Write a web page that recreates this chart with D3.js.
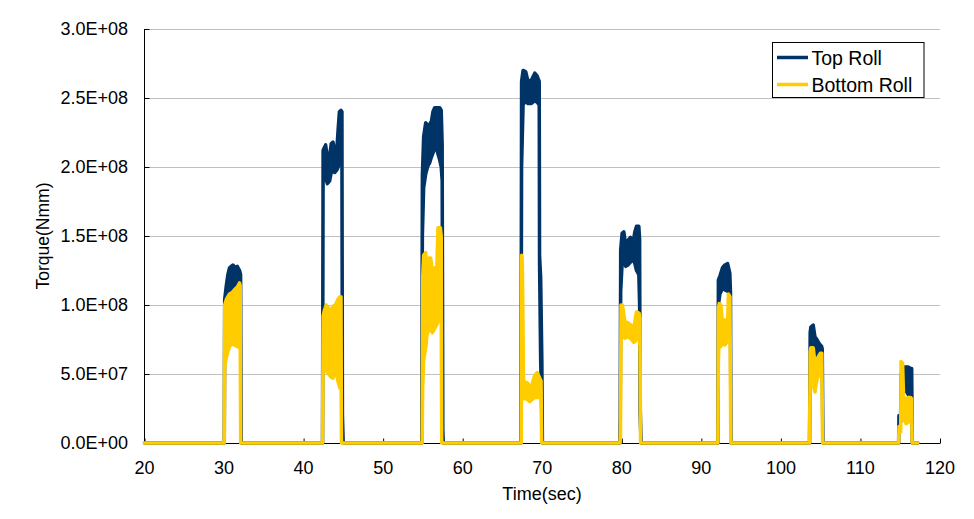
<!DOCTYPE html>
<html>
<head>
<meta charset="utf-8">
<script src="https://cdn.jsdelivr.net/npm/d3@7"></script>
<style>
  body { margin: 0; background: #fff; }
  text { font-family: "Liberation Sans", Arial, sans-serif; fill: #000; }
</style>
</head>
<body>
<div id="chart"></div>
<script>

// ---------- DATA ----------
// rows: [time (sec), low envelope, high envelope], torque in 1e6 Nmm
// (the signal oscillates fast, so each sample keeps its min / max band)

var seriesNames = ['Top Roll', 'Bottom Roll'];

var topRoll = [
	[20, 0, 0],
	[30.03, 0, 0], [30.08, 95, 104], [30.28, 100, 114], [30.48, 105, 122], [30.69, 108, 127],
	[30.9, 110, 128], [31.11, 112, 129], [31.41, 115, 127], [31.66, 115, 128], [31.95, 113, 125],
	[32.08, 110, 122], [32.15, 0, 0],
	[42.38, 0, 0], [42.45, 190, 212], [42.6, 193, 214], [42.77, 192, 216], [42.98, 188, 207],
	[43.27, 190, 208], [43.48, 196, 217], [43.69, 199, 218], [43.9, 196, 212], [44.19, 198, 214],
	[44.35, 200, 228], [44.5, 205, 240], [44.7, 210, 241], [44.82, 200, 240], [44.88, 15, 20],
	[44.98, 0, 0],
	[54.85, 0, 0], [54.93, 150, 194], [55.09, 185, 222], [55.35, 195, 232], [55.64, 201, 230],
	[55.85, 203, 231], [56.06, 207, 233], [56.26, 210, 240], [56.48, 214, 243], [56.77, 212, 243],
	[57.11, 205, 243], [57.3, 200, 241], [57.42, 190, 216], [57.5, 8, 10], [57.56, 0, 0],
	[67.33, 0, 0], [67.4, 200, 262], [67.59, 245, 270], [67.92, 248, 269], [68.21, 246, 262],
	[68.64, 246, 263], [69.06, 248, 268], [69.35, 247, 266], [69.62, 245, 262], [69.66, 130, 136],
	[69.8, 60, 120], [69.95, 20, 60], [70.02, 0, 0],
	[79.76, 0, 0], [79.8, 12, 18], [79.86, 110, 140], [80.04, 130, 152], [80.25, 132, 153],
	[80.5, 128, 143], [80.79, 129, 147], [81.09, 131, 149], [81.35, 134, 143], [81.64, 130, 153],
	[81.85, 125, 157], [82.14, 122, 157], [82.24, 100, 148], [82.3, 22, 30], [82.42, 0, 0],
	[92.08, 0, 0], [92.14, 100, 118], [92.33, 108, 121], [92.66, 112, 127], [92.96, 111, 129],
	[93.3, 110, 130], [93.58, 108, 123], [93.66, 100, 110], [93.72, 0, 0],
	[103.6, 0, 0], [103.68, 65, 80], [103.77, 68, 84], [104.06, 66, 85.5], [104.28, 60, 77],
	[104.57, 61, 74.6], [104.82, 63, 72], [105.12, 65, 70], [105.2, 60, 68], [105.28, 0, 0],
	[114.8, 0, 0], [114.84, 15, 20], [115.05, 15, 20], [115.12, 30, 50], [115.5, 40, 55],
	[115.72, 38, 55], [116.01, 35, 55], [116.31, 32, 54], [116.44, 30, 54], [116.52, 0, 0],
	[117.2, 0, 0]
];

var bottomRoll = [
	[20, 0, 0],
	[30.02, 0, 0], [30.08, 55, 100], [30.28, 62, 104], [30.48, 66, 106], [30.69, 70, 108],
	[31.0, 72, 109], [31.3, 71, 111], [31.66, 70, 113], [31.95, 69, 116], [32.03, 75, 114],
	[32.09, 0, 0],
	[42.38, 0, 0], [42.45, 60, 92], [42.6, 55, 96], [42.85, 52, 100], [43.14, 50, 98],
	[43.4, 48, 95], [43.69, 47, 99], [43.99, 54, 100], [44.31, 45, 104], [44.55, 40, 106],
	[44.7, 60, 106], [44.76, 0, 0],
	[54.9, 0, 0], [54.97, 40, 120], [55.09, 60, 136], [55.35, 69, 138], [55.51, 78, 120],
	[55.76, 83, 134], [55.97, 82, 134], [56.19, 80, 124], [56.48, 83, 127], [56.69, 85, 117],
	[56.89, 88, 156], [57.19, 90, 156], [57.3, 95, 150], [57.36, 0, 0],
	[67.36, 0, 0], [67.42, 100, 136], [67.5, 45, 130], [67.65, 35, 45], [67.8, 32, 41],
	[68.0, 33, 44], [68.21, 31, 43], [68.43, 30, 40], [68.64, 31, 41], [68.84, 32, 45],
	[69.06, 33, 49], [69.35, 33, 51], [69.69, 34, 47], [69.85, 30, 45], [69.93, 0, 0],
	[79.78, 0, 0], [79.83, 5, 10], [79.9, 75, 100], [80.08, 78, 100], [80.38, 76, 88],
	[80.79, 77, 87], [81.22, 75, 85], [81.51, 73, 83], [81.75, 74, 92], [81.85, 76, 95],
	[82.18, 77, 94], [82.28, 70, 90], [82.36, 0, 0],
	[92.08, 0, 0], [92.14, 60, 98], [92.25, 75, 101], [92.45, 70, 100], [92.6, 72, 90],
	[92.96, 71, 89], [93.2, 73, 88], [93.32, 75, 90], [93.4, 90, 108], [93.6, 92, 106],
	[93.7, 0, 0],
	[103.6, 0, 0], [103.68, 40, 66], [103.77, 45, 69], [104.06, 42, 69], [104.28, 37, 58],
	[104.45, 44, 59], [104.65, 48, 62], [104.95, 50, 65], [105.15, 52, 65], [105.24, 0, 0],
	[114.8, 0, 0], [114.84, 8, 12], [115.06, 8, 12], [115.1, 40, 59], [115.3, 30, 58],
	[115.42, 18, 33], [115.72, 14, 32], [116.01, 15, 33], [116.3, 18, 33], [116.44, 20, 32],
	[116.5, 0, 0],
	[117.2, 0, 0]
];

var xTicks = [20, 30, 40, 50, 60, 70, 80, 90, 100, 110, 120];
var yTicks = [0, 50, 100, 150, 200, 250, 300];   // 1e6 Nmm


// ---------- SETUP ----------
var W = 974, H = 519,
	margin = { top: 29, right: 34, bottom: 76, left: 144 },
	blue = '#003366', yellow = '#FFCC00';

var svg = d3.select('#chart').append('svg')
	.attr('width', W).attr('height', H);

var x = d3.scaleLinear().domain([20, 120]).range([margin.left + 0.5, W - margin.right]);
var y = d3.scaleLinear().domain([0, 300]).range([H - margin.bottom, margin.top]);

// 3.0E+08 style labels
function sci(d) {
	var s = (d * 1e6).toExponential(1).split('e');
	var e = s[1], sign = e[0], dig = e.slice(1);
	if (dig.length < 2) dig = '0' + dig;
	return s[0] + 'E' + sign + dig;
}


// ---------- GRID ----------
svg.append('g').selectAll('line')
	.data(yTicks.filter(function (d) { return d > 0; }))
	.enter().append('line')
	.attr('x1', margin.left).attr('x2', W - margin.right)
	.attr('y1', function (d) { return Math.round(y(d)) + 0.5; })
	.attr('y2', function (d) { return Math.round(y(d)) + 0.5; })
	.attr('stroke', '#c0c0c0').attr('stroke-width', 1);


// ---------- AXES ----------
var yAxis = svg.append('g')
	.attr('transform', 'translate(' + (margin.left + 0.5) + ',0)')
	.call(d3.axisRight(y).tickValues(yTicks).tickSize(5).tickFormat(''));
yAxis.select('.domain').attr('d', 'M0,' + margin.top + 'V' + (H - margin.bottom));

var xAxis = svg.append('g')
	.attr('transform', 'translate(0,' + (H - margin.bottom + 0.5) + ')')
	.call(d3.axisTop(x).tickValues(xTicks).tickSize(5).tickFormat(''));
xAxis.select('.domain').attr('d', 'M' + margin.left + ',0H' + (W - margin.right));

svg.selectAll('.domain, .tick line').attr('stroke', '#000');

// tick labels
svg.append('g').selectAll('text')
	.data(yTicks).enter().append('text')
	.attr('x', 128).attr('y', function (d) { return y(d); })
	.attr('dy', '0.35em').attr('text-anchor', 'end')
	.style('font-size', '18px')
	.text(sci);

svg.append('g').selectAll('text')
	.data(xTicks).enter().append('text')
	.attr('x', function (d) { return x(d); }).attr('y', 474)
	.attr('text-anchor', 'middle')
	.style('font-size', '18px')
	.text(function (d) { return d; });

// axis titles
svg.append('text')
	.attr('x', (margin.left + W - margin.right) / 2).attr('y', 500)
	.attr('text-anchor', 'middle').style('font-size', '18px')
	.text('Time(sec)');

svg.append('text')
	.attr('transform', 'translate(49,' + (margin.top + H - margin.bottom) / 2 + ') rotate(-90)')
	.attr('text-anchor', 'middle').style('font-size', '17.5px')
	.text('Torque(Nmm)');


// ---------- SERIES ----------
var area = d3.area()
	.x(function (d) { return x(d[0]); })
	.y0(function (d) { return y(d[1]); })
	.y1(function (d) { return y(d[2]); });

[[topRoll, blue], [bottomRoll, yellow]].forEach(function (s) {
	svg.append('path').datum(s[0])
		.attr('d', area)
		.attr('fill', s[1])
		.attr('stroke', s[1])
		.attr('stroke-width', 3.5)
		.attr('stroke-linejoin', 'round');
});


// ---------- LEGEND ----------
var legend = svg.append('g').attr('transform', 'translate(772.5,42.5)');
legend.append('rect')
	.attr('width', 151.5).attr('height', 55)
	.attr('fill', '#fff').attr('stroke', '#000');

var item = legend.selectAll('.item')
	.data(seriesNames).enter().append('g')
	.attr('transform', function (d, i) { return 'translate(0,' + (15 + i * 27) + ')'; });
item.append('line')
	.attr('x1', 4.5).attr('x2', 35.5)
	.attr('stroke', function (d, i) { return i ? yellow : blue; })
	.attr('stroke-width', 3.5);
item.append('text')
	.attr('x', 39).attr('dy', '0.36em')
	.style('font-size', '19.5px')
	.text(function (d) { return d; });

</script>
</body>
</html>
